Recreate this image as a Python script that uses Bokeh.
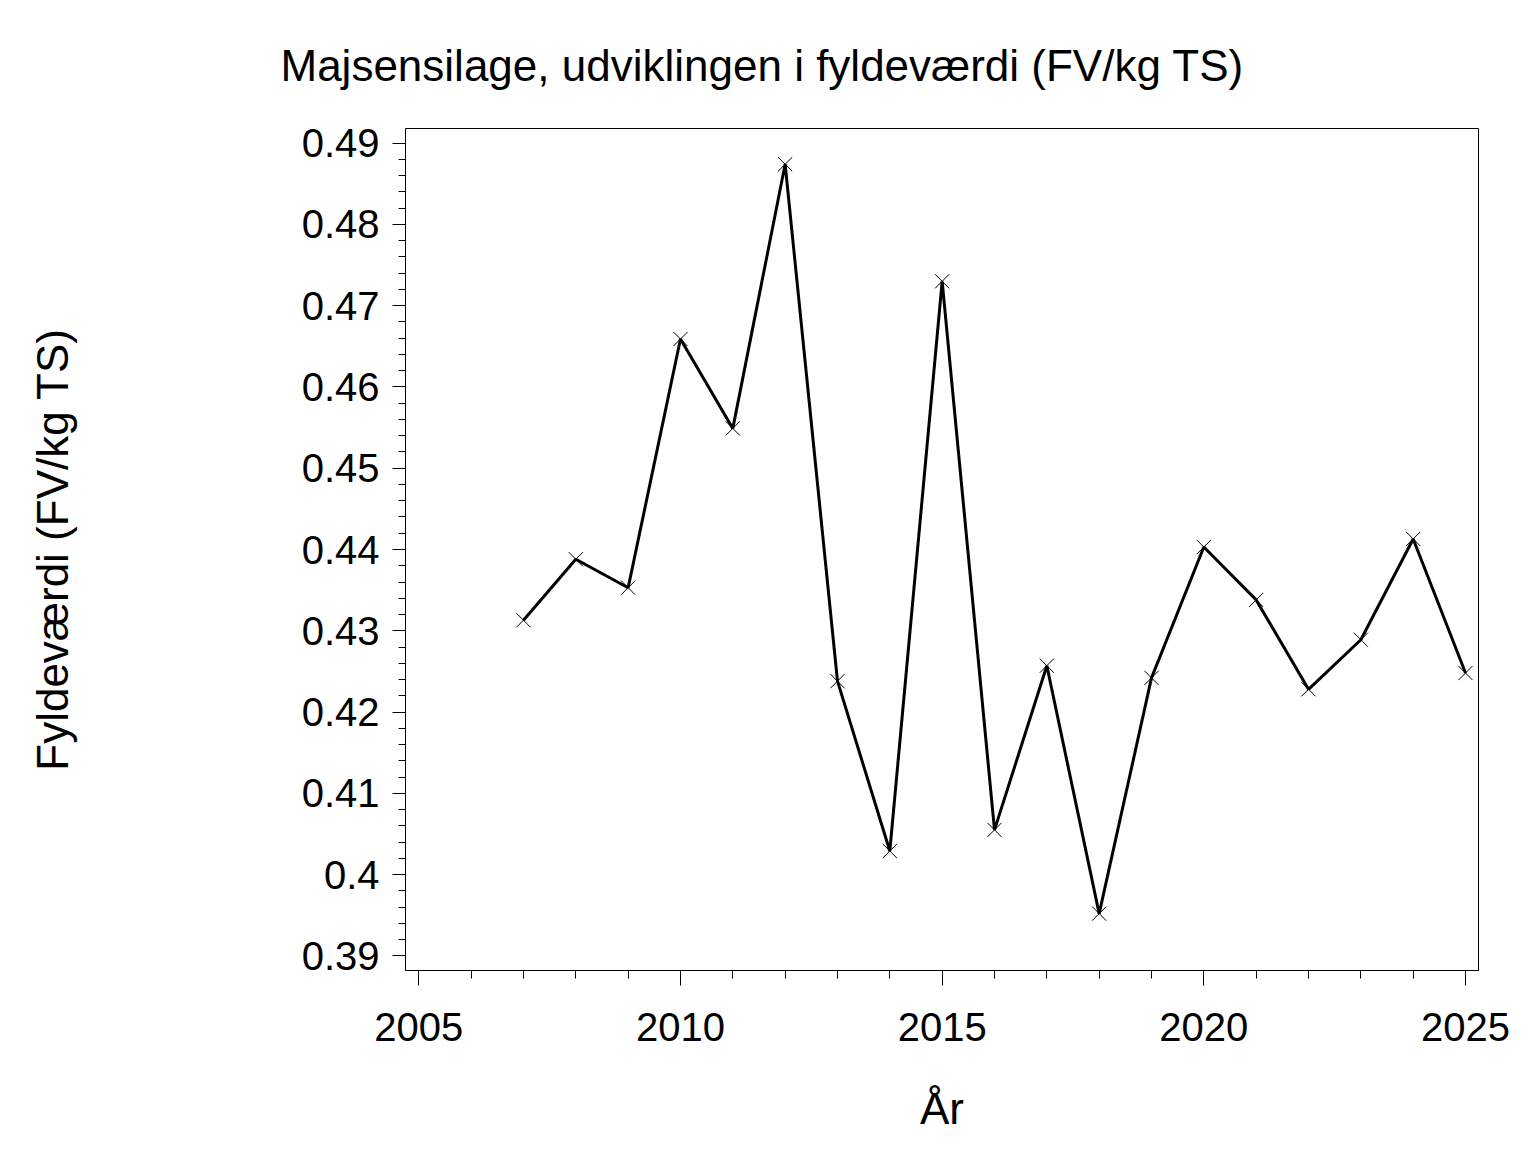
from bokeh.plotting import figure
from bokeh.models import SingleIntervalTicker, CustomJSTickFormatter, Range1d, Title
from bokeh.embed import file_html
from bokeh.resources import INLINE

years = [2007, 2008, 2009, 2010, 2011, 2012, 2013, 2014, 2015, 2016,
         2017, 2018, 2019, 2020, 2021, 2022, 2023, 2024, 2025]
fv = [0.4313, 0.4388, 0.4353, 0.4659, 0.4549, 0.4874, 0.4238, 0.4029, 0.4730, 0.4055,
      0.4257, 0.3952, 0.4242, 0.4403, 0.4338, 0.4228, 0.4289, 0.4413, 0.4248]

title_text = "Majsensilage, udviklingen i fyldeværdi (FV/kg TS)"
x_label = "År"
y_label = "Fyldeværdi (FV/kg TS)"

FONT = "Liberation Sans"

p = figure(width=1520, height=1136, output_backend="svg", toolbar_location=None,
           x_range=Range1d(2004.746, 2025.248), y_range=Range1d(0.3882, 0.4918),
           min_border_left=405, min_border_right=42, min_border_top=128, min_border_bottom=166)
p.title = None
t = Title(text=title_text, align="left", offset=-125, standoff=74, vertical_align="top",
          text_font=FONT, text_font_size="44px", text_font_style="normal", text_color="black")
p.add_layout(t, "above")

p.xgrid.visible = False
p.ygrid.visible = False
p.outline_line_color = "black"
p.outline_line_width = 1
p.outline_line_alpha = 1

p.xaxis.ticker = SingleIntervalTicker(interval=5, num_minor_ticks=5)
p.yaxis.ticker = SingleIntervalTicker(interval=0.01, num_minor_ticks=5)
p.yaxis.formatter = CustomJSTickFormatter(code="return parseFloat(tick.toFixed(2)).toString();")

for ax in (p.xaxis[0], p.yaxis[0]):
    ax.axis_line_color = "black"
    ax.major_tick_line_color = "black"
    ax.minor_tick_line_color = "black"
    ax.major_tick_in = 0
    ax.minor_tick_in = 0
    ax.major_label_text_font = FONT
    ax.major_label_text_font_size = "40px"
    ax.major_label_text_color = "black"
    ax.axis_label_text_font = FONT
    ax.axis_label_text_font_size = "44px"
    ax.axis_label_text_font_style = "normal"
    ax.axis_label_text_color = "black"

p.xaxis.major_tick_out = 15
p.xaxis.minor_tick_out = 8
p.yaxis.major_tick_out = 13
p.yaxis.minor_tick_out = 7
p.xaxis.major_label_standoff = 27
p.yaxis.major_label_standoff = 13
p.xaxis.axis_label = x_label
p.yaxis.axis_label = y_label
p.xaxis.axis_label_standoff = 40
p.yaxis.axis_label_standoff = 222

p.line(years, fv, line_color="black", line_width=3)
p.scatter(years, fv, marker="x", size=20, line_color="black", line_width=1)

open("out.html", "w").write(file_html(p, INLINE))
